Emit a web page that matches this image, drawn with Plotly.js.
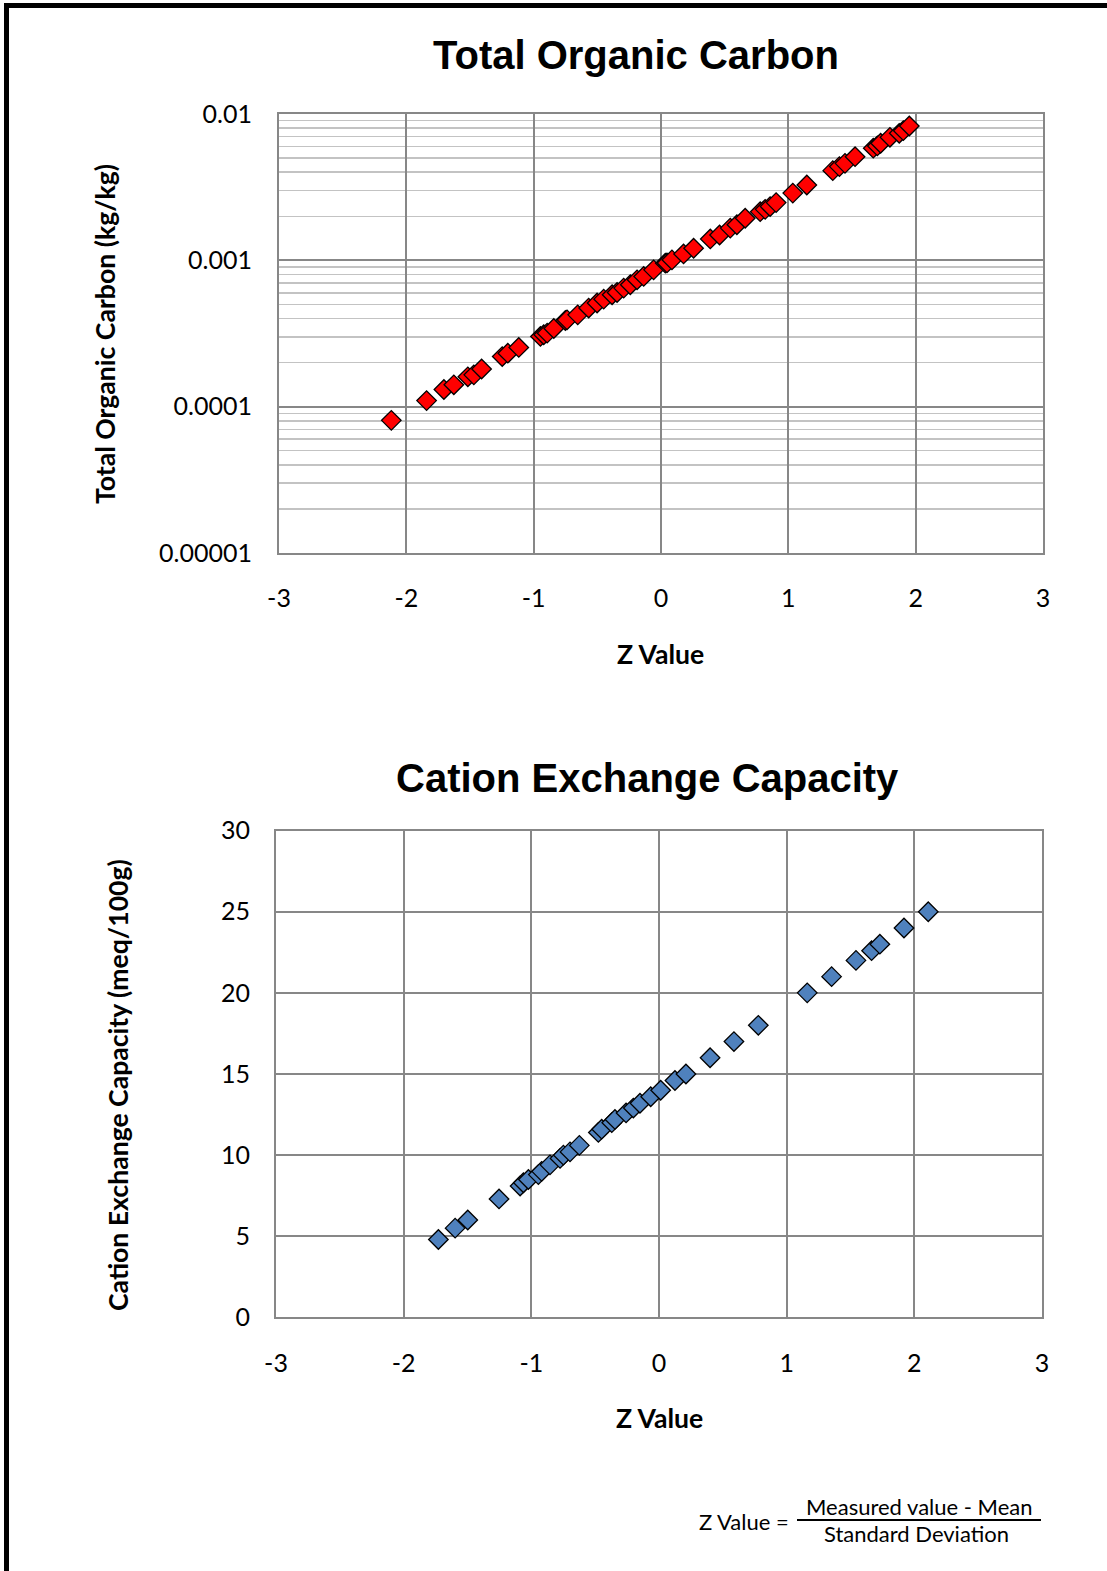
<!DOCTYPE html>
<html>
<head>
<meta charset="utf-8">
<script src="https://cdn.plot.ly/plotly-3.0.1.min.js"></script>
<style>
  html, body { margin: 0; padding: 0; background: #ffffff; }
  #frame { position: absolute; left: 4px; top: 3px; width: 1103px; height: 1568px;
           border-left: 5px solid #000; border-top: 5px solid #000; box-sizing: border-box; }
  #chart { position: absolute; left: 0; top: 0; width: 1107px; height: 1571px; }
</style>
</head>
<body>
<div id="frame"></div>
<div id="chart"></div>
<script>
// ---- Total Organic Carbon (kg/kg) vs Z value ----
const tocZ = [-2.118, -1.841, -1.705, -1.627, -1.517, -1.470, -1.409, -1.247, -1.203, -1.117,
  -0.947, -0.921, -0.894, -0.842, -0.751, -0.738, -0.654, -0.568, -0.502, -0.450,
  -0.384, -0.345, -0.293, -0.241, -0.188, -0.136, -0.058, 0.034, 0.047, 0.086,
  0.177, 0.256, 0.387, 0.460, 0.544, 0.596, 0.661, 0.779, 0.818, 0.857,
  0.904, 1.035, 1.145, 1.349, 1.401, 1.445, 1.524, 1.667, 1.699, 1.725,
  1.798, 1.871, 1.903, 1.950];
const tocValue = [8.06e-5, 1.10e-4, 1.31e-4, 1.41e-4, 1.60e-4, 1.65e-4, 1.81e-4, 2.20e-4, 2.32e-4, 2.54e-4,
  3.02e-4, 3.10e-4, 3.18e-4, 3.42e-4, 3.88e-4, 3.92e-4, 4.24e-4, 4.72e-4, 5.11e-4, 5.43e-4,
  5.82e-4, 6.03e-4, 6.46e-4, 6.81e-4, 7.36e-4, 7.76e-4, 8.61e-4, 9.56e-4, 9.60e-4, 1.007e-3,
  1.106e-3, 1.21e-3, 1.40e-3, 1.49e-3, 1.66e-3, 1.75e-3, 1.94e-3, 2.15e-3, 2.23e-3, 2.33e-3,
  2.48e-3, 2.88e-3, 3.27e-3, 4.10e-3, 4.37e-3, 4.60e-3, 5.11e-3, 5.84e-3, 6.05e-3, 6.31e-3,
  6.93e-3, 7.38e-3, 7.69e-3, 8.28e-3];

// ---- Cation Exchange Capacity (meq/100g) vs Z value ----
const cecZ = [-1.728, -1.597, -1.498, -1.253, -1.088, -1.062, -1.023, -0.945, -0.919, -0.854,
  -0.775, -0.749, -0.697, -0.624, -0.475, -0.449, -0.370, -0.345, -0.258, -0.201,
  -0.149, -0.065, 0.013, 0.125, 0.211, 0.400, 0.587, 0.778, 1.161, 1.352,
  1.543, 1.665, 1.730, 1.919, 2.109];
const cecValue = [4.8, 5.5, 6.0, 7.3, 8.1, 8.3, 8.5, 8.8, 9.0, 9.4,
  9.8, 10.0, 10.2, 10.6, 11.4, 11.6, 12.0, 12.2, 12.6, 12.9,
  13.2, 13.6, 14.0, 14.6, 15.0, 16.0, 17.0, 18.0, 20.0, 21.0,
  22.0, 22.6, 23.0, 24.0, 25.0];

// ---- tick labels ----
const zTickVals = [-3, -2, -1, 0, 1, 2, 3];
const zTickText = ["-3", "-2", "-1", "0", "1", "2", "3"];
const tocTickVals = [0.00001, 0.0001, 0.001, 0.01];
const tocTickText = ["0.00001", "0.0001", "0.001", "0.01"];
const cecTickVals = [0, 5, 10, 15, 20, 25, 30];
const cecTickText = ["0", "5", "10", "15", "20", "25", "30"];

const W = 1107, H = 1571;
const fx = p => p / W;
const fy = p => 1 - p / H;

const tickFont = { family: "Lato, 'Liberation Sans', sans-serif", size: 25, color: "#000" };
const boldFont = { family: "Lato, 'Liberation Sans', sans-serif", size: 26.6, color: "#000", weight: 700 };
const titleFont = { family: "'Liberation Sans', Arial, sans-serif", size: 40, color: "#000", weight: 700 };
const noteFont = { family: "Lato, 'Liberation Sans', sans-serif", size: 22, color: "#000" };
const gridCol = "#878787";

const traces = [
  { type: "scatter", mode: "markers", x: tocZ, y: tocValue, xaxis: "x", yaxis: "y",
    marker: { symbol: "diamond", size: 15, color: "#ff0000", line: { color: "#000", width: 1.3 } },
    hoverinfo: "x+y", showlegend: false },
  { type: "scatter", mode: "markers", x: cecZ, y: cecValue, xaxis: "x2", yaxis: "y2",
    marker: { symbol: "diamond", size: 15, color: "#4f81bd", line: { color: "#000", width: 1.3 } },
    hoverinfo: "x+y", showlegend: false }
];

const commonX = {
  range: [-3, 3], tickmode: "array", tickvals: zTickVals, ticktext: zTickText,
  showgrid: true, gridcolor: gridCol, gridwidth: 2, zeroline: false,
  showline: true, linecolor: gridCol, linewidth: 2, mirror: true,
  ticks: "", tickfont: tickFont, fixedrange: true
};

const layout = {
  width: W, height: H,
  margin: { l: 0, r: 0, t: 0, b: 0, pad: 0 },
  paper_bgcolor: "rgba(0,0,0,0)", plot_bgcolor: "#ffffff",
  showlegend: false,
  xaxis: Object.assign({}, commonX, { domain: [fx(279), fx(1043)], anchor: "y", ticklabelstandoff: 22 }),
  yaxis: {
    type: "log", range: [-5, -2], domain: [fy(553), fy(114)], anchor: "x",
    tickmode: "array", tickvals: tocTickVals, ticktext: tocTickText,
    showgrid: true, gridcolor: gridCol, gridwidth: 2, zeroline: false,
    minor: { dtick: "D1", showgrid: true, gridcolor: "#c3c3c3", gridwidth: 1.5, ticks: "" },
    showline: true, linecolor: gridCol, linewidth: 2, mirror: true,
    ticks: "", tickfont: tickFont, ticklabelstandoff: 20, fixedrange: true
  },
  xaxis2: Object.assign({}, commonX, { domain: [fx(276), fx(1042)], anchor: "y2", ticklabelstandoff: 23 }),
  yaxis2: {
    range: [0, 30], domain: [fy(1317.4), fy(830.6)], anchor: "x2",
    tickmode: "array", tickvals: cecTickVals, ticktext: cecTickText,
    showgrid: true, gridcolor: gridCol, gridwidth: 2, zeroline: false,
    showline: true, linecolor: gridCol, linewidth: 2, mirror: true,
    ticks: "", tickfont: tickFont, ticklabelstandoff: 19, fixedrange: true
  },
  annotations: [
    { text: "Total Organic Carbon", xref: "paper", yref: "paper", x: fx(636), y: fy(55),
      xanchor: "center", yanchor: "middle", showarrow: false, font: titleFont },
    { text: "Cation Exchange Capacity", xref: "paper", yref: "paper", x: fx(647), y: fy(778),
      xanchor: "center", yanchor: "middle", showarrow: false, font: titleFont },
    { text: "Z Value", xref: "paper", yref: "paper", x: fx(660), y: fy(654),
      xanchor: "center", yanchor: "middle", showarrow: false, font: boldFont },
    { text: "Z Value", xref: "paper", yref: "paper", x: fx(659), y: fy(1418),
      xanchor: "center", yanchor: "middle", showarrow: false, font: boldFont },
    { text: "Total Organic Carbon (kg/kg)", xref: "paper", yref: "paper", x: fx(105), y: fy(334),
      xanchor: "center", yanchor: "middle", textangle: -90, showarrow: false, font: boldFont },
    { text: "Cation Exchange Capacity (meq/100g)", xref: "paper", yref: "paper", x: fx(118), y: fy(1085),
      xanchor: "center", yanchor: "middle", textangle: -90, showarrow: false, font: boldFont },
    { text: "Z Value =", xref: "paper", yref: "paper", x: fx(744), y: fy(1521),
      xanchor: "center", yanchor: "middle", showarrow: false, font: noteFont },
    { text: "Measured value - Mean", xref: "paper", yref: "paper", x: fx(919), y: fy(1506),
      xanchor: "center", yanchor: "middle", showarrow: false, font: noteFont },
    { text: "Standard Deviation", xref: "paper", yref: "paper", x: fx(916), y: fy(1533),
      xanchor: "center", yanchor: "middle", showarrow: false, font: noteFont }
  ],
  shapes: [
    { type: "line", xref: "paper", yref: "paper", x0: fx(797), x1: fx(1041), y0: fy(1520), y1: fy(1520),
      line: { color: "#000", width: 2 } }
  ]
};

Plotly.newPlot("chart", traces, layout, { displayModeBar: false, staticPlot: true });
</script>
</body>
</html>
